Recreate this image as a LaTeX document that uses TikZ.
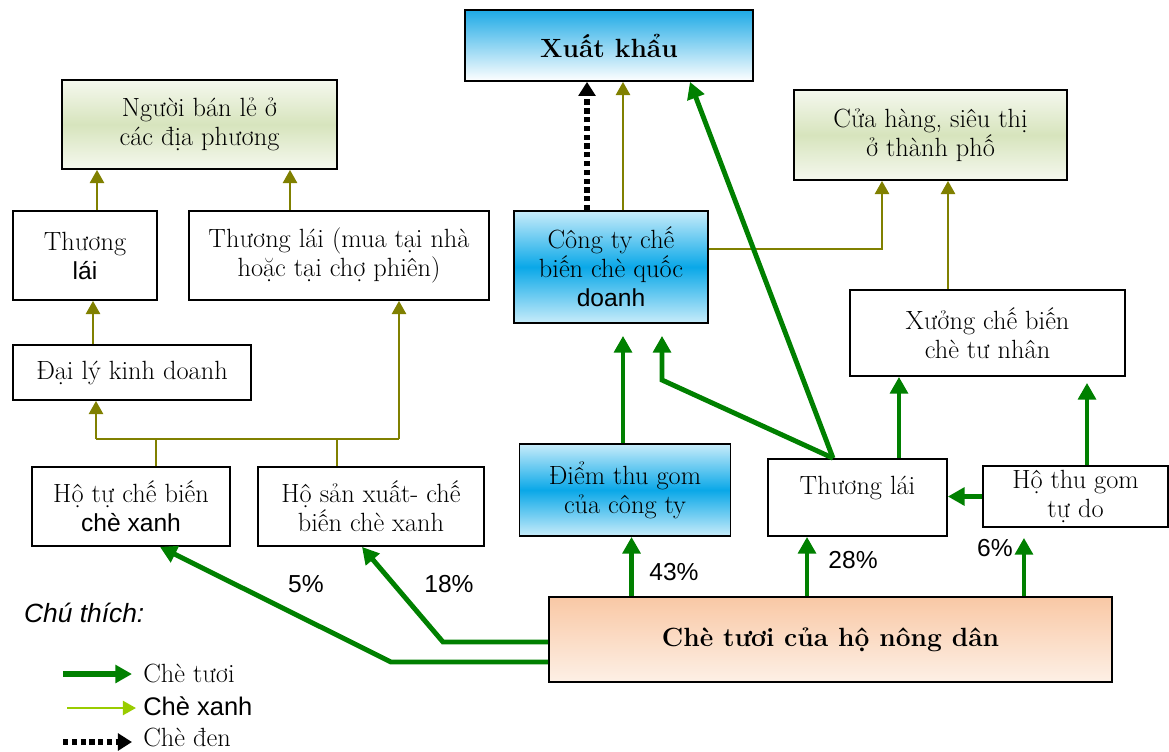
\documentclass[tikz,border=0pt]{standalone}
\usepackage{fontspec}
\setsansfont{Liberation Sans}
\usetikzlibrary{arrows.meta}

\definecolor{tuoigreen}{RGB}{0,128,0}
\definecolor{xanholive}{RGB}{128,128,0}
\definecolor{legendxanh}{RGB}{153,204,0}
\definecolor{xkblue}{RGB}{30,170,230}
\definecolor{midblue}{RGB}{10,168,232}
\definecolor{paleblue}{RGB}{200,236,250}
\definecolor{palegreen}{RGB}{215,228,189}
\definecolor{peach}{RGB}{249,200,165}
\definecolor{peachlight}{RGB}{253,240,230}

\tikzset{
  box/.style={draw, line width=1pt, align=center, inner sep=2pt,
    font=\fontsize{15}{16.5}\selectfont},
  xkshade/.style={top color=xkblue, bottom color=white},
  blueshade/.style={top color=paleblue, bottom color=paleblue, middle color=midblue},
  greenshade/.style={top color=palegreen!25, bottom color=palegreen!25, middle color=palegreen},
  peachshade/.style={top color=peach, bottom color=peachlight},
  tuoi/.style={draw=tuoigreen, line width=2.8pt, -{Triangle[width=10pt,length=9.5pt]}},
  xanh/.style={draw=xanholive, line width=1.4pt, -{Triangle[width=8pt,length=7.5pt]}},
  den/.style={draw=black, line width=3.4pt, dash pattern=on 3pt off 2pt, -{Triangle[width=9.5pt,length=8pt]}},
  pct/.style={font=\sffamily\fontsize{14}{16}\selectfont},
  legendtext/.style={anchor=base west, inner sep=0pt, font=\fontsize{15}{16}\selectfont}
}

\begin{document}
\begin{tikzpicture}[x=0.02cm,y=-0.02cm]
\useasboundingbox (0,0) rectangle (1169,751);

% cac nut
\node[box, xkshade, minimum width=5.76cm, minimum height=1.42cm] (xk) at (609,45.5) {\bfseries Xuất khẩu};
\node[box, greenshade, minimum width=5.5cm, minimum height=1.78cm] (nbl) at (199.5,124.5) {Người bán lẻ ở\\các địa phương};
\node[box, minimum width=2.88cm, minimum height=1.78cm] (tl1) at (85,255.5) {Thương\\{\sffamily\fontsize{14}{16.5}\selectfont lái}};
\node[box, minimum width=6cm, minimum height=1.78cm] (tl2) at (339,255.5) {Thương lái (mua tại nhà\\hoặc tại chợ phiên)};
\node[box, minimum width=4.76cm, minimum height=1.1cm] (dl) at (132,372.5) {Đại lý kinh doanh};
\node[box, minimum width=3.96cm, minimum height=1.58cm] (htc) at (131,506.5) {Hộ tự chế biến\\{\sffamily\fontsize{14}{16.5}\selectfont chè xanh}};
\node[box, minimum width=4.52cm, minimum height=1.58cm] (hsx) at (371,506.5) {Hộ sản xuất- chế\\biến chè xanh};
\node[box, blueshade, minimum width=3.88cm, minimum height=2.24cm] (cty) at (611,267) {Công ty chế\\biến chè quốc\\{\sffamily\fontsize{14}{16.5}\selectfont doanh}};
\node[box, blueshade, minimum width=4.22cm, minimum height=1.84cm] (dtg) at (625,490) {Điểm thu gom\\của công ty};
\node[box, text depth=14pt, minimum width=3.58cm, minimum height=1.54cm] (tl3) at (857.5,497.5) {Thương lái};
\node[box, minimum width=3.7cm, minimum height=1.22cm] (htg) at (1075.5,496.5) {Hộ thu gom\\tự do};
\node[box, greenshade, minimum width=5.46cm, minimum height=1.8cm] (ch) at (930.5,135) {Cửa hàng, siêu thị\\ở thành phố};
\node[box, minimum width=5.5cm, minimum height=1.72cm] (xuong) at (987.5,333) {Xưởng chế biến\\chè tư nhân};
\node[box, peachshade, minimum width=11.26cm, minimum height=1.7cm] (ct) at (830.5,639.5) {\bfseries Chè tươi của hộ nông dân};

% diem gap
\coordinate (jL) at (96,439);
\coordinate (jR) at (399,439);
\coordinate (b1) at (443,642);
\coordinate (b2) at (391,662);
\coordinate (b3) at (662,380);

% che xanh
\draw[xanh] ([xshift=0.24cm]tl1.north) -- ([xshift=0.24cm]tl1.north |- nbl.south);
\draw[xanh] ([xshift=-0.98cm]tl2.north) -- ([xshift=-0.98cm]tl2.north |- nbl.south);
\draw[xanh] ([xshift=-0.78cm]dl.north) -- ([xshift=-0.78cm]dl.north |- tl1.south);
\draw[xanh,-] ([xshift=0.5cm]htc.north) |- (jL);
\draw[xanh,-] ([xshift=-0.68cm]hsx.north) |- (jR);
\draw[xanh,-] (jL) -- (jR);
\draw[xanh] (jL) -- (jL |- dl.south);
\draw[xanh] (jR) -- (jR |- tl2.south);
\draw[xanh] ([xshift=0.24cm]cty.north) -- ([xshift=0.24cm]cty.north |- xk.south);
\draw[xanh] ([yshift=0.36cm]cty.east) -| ([xshift=-0.97cm]ch.south);
\draw[xanh] ([xshift=-0.79cm]xuong.north) -- ([xshift=-0.79cm]xuong.north |- ch.south);

% che den
\draw[den] ([xshift=-0.48cm]cty.north) -- ([xshift=-0.48cm]cty.north |- xk.south);

% che tuoi
\draw[tuoi] ([xshift=-3.98cm]ct.north) -- ([xshift=-3.98cm]ct.north |- dtg.south);
\draw[tuoi] ([xshift=-0.47cm]ct.north) -- ([xshift=-0.47cm]ct.north |- tl3.south);
\draw[tuoi, shorten >=0.2cm] ([xshift=3.87cm]ct.north) -- ([xshift=3.87cm]ct.north |- htg.south);
\draw[tuoi] (htg.west) -- (htg.west -| tl3.east);
\draw[tuoi, shorten >=0.24cm] ([xshift=-0.04cm]dtg.north) -- ([xshift=-0.04cm]dtg.north |- cty.south);
\draw[tuoi, shorten >=0.24cm] ([xshift=-0.49cm]tl3.north) -- (b3) -- (b3 |- cty.south);
\draw[tuoi] ([xshift=-0.49cm]tl3.north) -- ([xshift=1.62cm]xk.south);
\draw[tuoi] ([xshift=0.83cm]tl3.north) -- ([xshift=0.83cm]tl3.north |- xuong.south);
\draw[tuoi, shorten >=0.12cm] ([xshift=0.23cm]htg.north) -- ([xshift=0.23cm]htg.north |- xuong.south);
\draw[tuoi] ([yshift=-0.05cm]ct.west) -- (b1) -- ([xshift=-0.18cm]hsx.south);
\draw[tuoi] ([yshift=-0.45cm]ct.west) -- (b2) -- ([xshift=0.58cm]htc.south);

% ty le
\node[pct] (p5) at (306,584) {5\%};
\node[pct] (p18) at (449,584) {18\%};
\node[pct] (p43) at (674,572) {43\%};
\node[pct] (p28) at (853,560) {28\%};
\node[pct] (p6) at (995,548) {6\%};

% chu thich
\node[anchor=west, font=\sffamily\itshape\fontsize{15}{16}\selectfont] (ctitle) at (18,613) {Chú thích:};
\coordinate (l1a) at (63,674);
\coordinate (l1b) at (132,674);
\coordinate (l2a) at (67,708);
\coordinate (l2b) at (136,708);
\coordinate (l3a) at (63,742);
\coordinate (l3b) at (132,742);
\draw[tuoi, line width=3.6pt] (l1a) -- (l1b);
\draw[xanh, draw=legendxanh] (l2a) -- (l2b);
\draw[den] (l3a) -- (l3b);
\node[legendtext] (lt1) at (143,682) {Chè tươi};
\node[legendtext, font=\sffamily\fontsize{14.5}{16}\selectfont] (lt2) at (143,715) {Chè xanh};
\node[legendtext] (lt3) at (143,746) {Chè đen};
\end{tikzpicture}
\end{document}
